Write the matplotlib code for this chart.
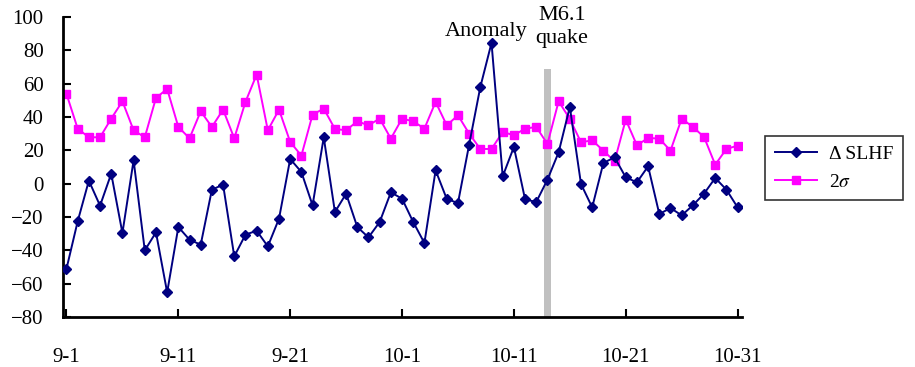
import matplotlib
matplotlib.use("Agg")
import matplotlib.pyplot as plt
import numpy as np

# --- data (daily values, 9-1 .. 10-31) ---
slhf = [-51, -22.6, 1.8, -13.2, 6, -29.6, 14, -40, -29.2, -65.2,
        -26, -33.6, -36.6, -3.6, -0.6, -43.6, -30.6, -28.2, -37.6, -21,
        14.8, 7, -13, 27.8, -17, -6, -26, -32.2, -23, -5.2,
        -9, -23, -35.6, 8, -9.2, -11.6, 23.4, 58, 84.4, 4.4,
        22, -9.4, -11, 2.4, 18.8, 46, -0.2, -14.2, 12.4, 15.8,
        3.8, 0.8, 10.4, -18.2, -14.6, -19, -13, -6, 3.4, -3.6,
        -14.2]
two_sigma = [53.8, 33, 27.8, 27.8, 39, 49.4, 32, 27.8, 51.4, 56.8,
             34, 27.2, 43.4, 34, 44.4, 27.2, 49, 65.4, 32, 44.4,
             25, 16.8, 41.4, 45, 32.8, 32, 37.4, 35, 39, 27,
             39, 37.4, 33, 49, 35, 41, 30, 20.8, 20.8, 31,
             29, 33, 34, 23.8, 49.4, 38.8, 24.8, 26, 19.8, 13.4,
             38.4, 23, 27.4, 27, 19.8, 39, 34, 28, 11.4, 20.8,
             22.8]
tick_days = [0, 10, 20, 30, 40, 50, 60]
tick_labels = ['9-1', '9-11', '9-21', '10-1', '10-11', '10-21', '10-31']
quake_day = 43
quake_top = 69
anomaly_day = 37.5

plt.rcParams['font.family'] = ['Liberation Serif', 'DejaVu Serif']
plt.rcParams['mathtext.fontset'] = 'stix'

fig = plt.figure(figsize=(9.15, 3.67), dpi=100)
ax = fig.add_axes([0.069, 0.136, 0.742, 0.818])

x = np.arange(len(slhf))
ax.bar(quake_day, quake_top + 80, bottom=-80, width=0.55, color='#c0c0c0', zorder=1)
ax.plot(x, slhf, color='#000080', marker='D', markersize=5.5, linewidth=1.4,
        label='Δ SLHF', zorder=3)
ax.plot(x, two_sigma, color='#ff00ff', marker='s', markersize=6, linewidth=1.4,
        label=r'2$\sigma$', zorder=2)

ax.set_xlim(-0.3, 60.4)
ax.set_ylim(-80, 100)
ax.set_yticks(range(-80, 101, 20))
ax.set_xticks(tick_days)
ax.set_xticklabels(tick_labels)
ax.tick_params(direction='in', length=6, width=1.5, labelsize=15)
ax.tick_params(axis='x', pad=22)
ax.tick_params(axis='y', pad=14)
for s in ['top', 'right']:
    ax.spines[s].set_visible(False)
for s in ['left', 'bottom']:
    ax.spines[s].set_linewidth(2)

ax.text(anomaly_day, 91, 'Anomaly', ha='center', va='center', fontsize=16)
ax.text(quake_day + 1.3, 106.5, 'M6.1\nquake', ha='center', va='top', fontsize=16,
        linespacing=1.3, clip_on=False)

leg = fig.legend(loc='center left', bbox_to_anchor=(0.836, 0.542), fontsize=14,
                 frameon=True, fancybox=False, edgecolor='black',
                 handlelength=2.2, handletextpad=0.6, borderpad=0.5,
                 borderaxespad=0)
leg.get_frame().set_linewidth(1.2)

fig.savefig('out.png', dpi=100)
